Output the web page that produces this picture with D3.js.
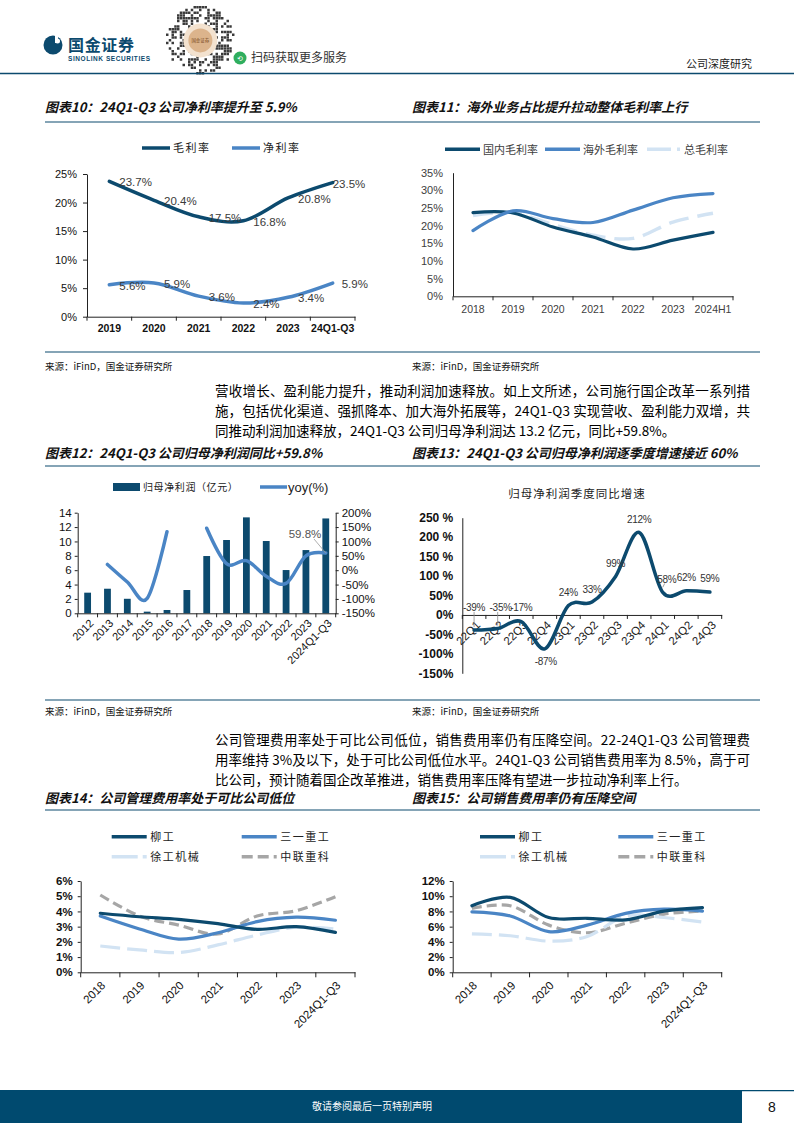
<!DOCTYPE html>
<html><head><meta charset="utf-8">
<script src="https://cdn.jsdelivr.net/npm/d3@7"></script>
<style>body{margin:0;background:#fff}svg{display:block}</style>
</head><body>
<svg id="page" width="794" height="1123" xmlns="http://www.w3.org/2000/svg"></svg>
<script>
// ---------------- DATA ----------------
const c10Cats = ["2019","2020","2021","2022","2023","24Q1-Q3"];
const c10Gross = [23.7,20.4,17.5,16.8,20.8,23.5];
const c10Net = [5.6,5.9,3.6,2.4,3.4,5.9];
const c10Ticks = [0,5,10,15,20,25];

const c11Cats = ["2018","2019","2020","2021","2022","2023","2024H1"];
const c11Domestic = [23.7,23.6,19.6,16.8,13.4,15.9,18.1];
const c11Overseas = [18.6,24.2,22.0,20.9,24.4,27.9,29.1];
const c11Total = [22.9,23.7,20.3,17.3,16.4,21.0,23.5];
const c11Ticks = [0,5,10,15,20,25,30,35];

const c12Cats = ["2012","2013","2014","2015","2016","2017","2018","2019","2020","2021","2022","2023","2024Q1-Q3"];
const c12Profit = [2.87,3.42,2.02,0.23,0.46,3.24,7.97,10.2,13.35,10.06,6.02,8.8,13.2];
const c12Yoy = [null,20,-41,-98,134,null,146,23,33,-21,-46,50,59.8];
const c12LeftTicks = [0,2,4,6,8,10,12,14];
const c12RightTicks = [-150,-100,-50,0,50,100,150,200];

const c13Cats = ["22Q1","22Q2","22Q3","22Q4","23Q1","23Q2","23Q3","23Q4","24Q1","24Q2","24Q3"];
const c13Yoy = [-39,-35,-17,-87,24,33,99,212,58,62,59];
const c13Ticks = [-150,-100,-50,0,50,100,150,200,250];

const c14Cats = ["2018","2019","2020","2021","2022","2023","2024Q1-Q3"];
const c14Liugong = [3.88,3.65,3.48,3.2,2.82,3.0,2.62];
const c14Sany = [3.7,2.85,2.18,2.6,3.33,3.62,3.42];
const c14Xcmg = [1.73,1.47,1.3,1.8,2.45,2.96,2.84];
const c14Zoomlion = [5.08,3.7,3.1,2.52,3.7,4.05,4.97];
const c14Ticks = [0,1,2,3,4,5,6];

const c15Cats = ["2018","2019","2020","2021","2022","2023","2024Q1-Q3"];
const c15Liugong = [8.75,9.85,7.2,7.1,6.9,8.05,8.5];
const c15Sany = [7.95,7.4,5.35,6.2,7.75,8.3,8.05];
const c15Xcmg = [5.05,4.8,4.1,4.7,7.4,7.2,6.6];
const c15Zoomlion = [8.4,8.75,6.2,5.2,6.45,7.65,8.05];
const c15Ticks = [0,2,4,6,8,10,12];

const peerNames = ["柳工","三一重工","徐工机械","中联重科"];

// ---------------- STYLE ----------------
const DARK = "#0c4a6e", MID = "#4a85c5", LIGHT = "#d2e3f3", GRAY = "#a6a6a6";
const LAT = "'Liberation Sans', Arial, 'Noto Sans CJK SC', sans-serif";
const CJK = "'Noto Sans CJK SC', 'Liberation Sans', sans-serif";
const svg = d3.select("#page");
const smooth = d3.curveCardinal.tension(0);

function txt(g, x, y, s, o = {}) {
  const t = g.append("text").attr("x", x).attr("y", y).text(s)
    .attr("font-family", o.ff || CJK).attr("font-size", o.fs || 12)
    .attr("fill", o.fill || "#000");
  if (o.fw) t.attr("font-weight", o.fw);
  if (o.fst) t.attr("font-style", o.fst);
  if (o.anchor) t.attr("text-anchor", o.anchor);
  if (o.ls) t.attr("letter-spacing", o.ls);
  if (o.len) t.attr("textLength", o.len).attr("lengthAdjust", "spacing");
  if (o.dy) t.attr("dy", o.dy);
  return t;
}
function styleAxis(a, color, font, fs, fw, fill) {
  a.select(".domain").attr("stroke", color).attr("stroke-width", 1);
  a.selectAll(".tick line").attr("stroke", color);
  a.selectAll(".tick text").attr("font-family", font).attr("font-size", fs)
    .attr("font-weight", fw || "normal").attr("fill", fill || "#000");
}
function bandTicks(g, x, y0, len, color) {
  const pos = x.domain().map(d => x(d)).concat([x.range()[1]]);
  g.selectAll(null).data(pos).enter().append("line")
    .attr("x1", d => d).attr("x2", d => d).attr("y1", y0).attr("y2", y0 + len)
    .attr("stroke", color).attr("stroke-width", 1);
}
function legendLine(g, x1, x2, y, color, w, dash) {
  const l = g.append("line").attr("x1", x1).attr("x2", x2).attr("y1", y).attr("y2", y)
    .attr("stroke", color).attr("stroke-width", w);
  if (dash) l.attr("stroke-dasharray", dash);
  return l;
}
function series(g, x, y, vals, color, w, dash) {
  const cats = x.domain(), bw = x.bandwidth();
  const line = d3.line().defined(d => d[1] != null)
    .x(d => x(d[0]) + bw / 2).y(d => y(d[1])).curve(smooth);
  const p = g.append("path").datum(cats.map((c, i) => [c, vals[i]]))
    .attr("d", line).attr("fill", "none").attr("stroke", color)
    .attr("stroke-width", w).attr("stroke-linecap", dash ? "butt" : "round");
  if (dash) p.attr("stroke-dasharray", dash);
  return p;
}

// ---------------- HEADER ----------------
(function header() {
  const g = svg.append("g");
  g.append("circle").attr("cx", 53).attr("cy", 45).attr("r", 9.5).attr("fill", DARK);
  g.append("rect").attr("x", 55).attr("y", 34).attr("width", 3).attr("height", 9).attr("fill", "#fff");
  g.append("circle").attr("cx", 57.5).attr("cy", 41).attr("r", 2.5).attr("fill", "#fff");
  txt(g, 68, 51, "国金证券", { fs: 16, fw: "bold", fill: DARK, len: 66 });
  txt(g, 68, 60.5, "SINOLINK SECURITIES", { ff: LAT, fs: 6.5, fw: "bold", fill: DARK, len: 82 });
  // QR-style badge (decorative)
  const qx = 166, qy = 6, m = 2.75, n = 25;
  const qr = g.append("g");
  for (let i = 0; i < n; i++) for (let j = 0; j < n; j++) {
    const dx = i - 12, dy = j - 12;
    if (dx * dx + dy * dy > 150) continue;
    const h = (((i * 73856093) ^ (j * 19349663) ^ (i * j * 83492791)) >>> 0) % 100;
    if (h < 46) qr.append("rect").attr("x", qx + i * m).attr("y", qy + j * m)
      .attr("width", m * 0.9).attr("height", m * 0.9).attr("fill", "#3a3a3a");
  }
  g.append("circle").attr("cx", qx + 12.5 * m).attr("cy", qy + 12.5 * m).attr("r", 17).attr("fill", "#f3e2cf");
  g.append("circle").attr("cx", qx + 12.5 * m).attr("cy", qy + 12.5 * m).attr("r", 12).attr("fill", "#dcb48c");
  txt(g, qx + 12.5 * m, qy + 12.5 * m + 2, "国金证券", { fs: 4.5, fill: "#7a4a20", anchor: "middle" });
  g.append("circle").attr("cx", 240).attr("cy", 58).attr("r", 6.5).attr("fill", "#2fae5e");
  txt(g, 240, 61, "⟲", { ff: LAT, fs: 7, fill: "#fff", anchor: "middle" });
  txt(g, 251, 62, "扫码获取更多服务", { fs: 12, fill: "#333" });
  txt(g, 752, 68, "公司深度研究", { fs: 11, fill: "#222", anchor: "end" });
  g.append("line").attr("x1", 0).attr("x2", 794).attr("y1", 73.5).attr("y2", 73.5)
    .attr("stroke", DARK).attr("stroke-width", 1.5);
})();

// ---------------- TITLES / SOURCES / RULES ----------------
(function frame() {
  const g = svg.append("g");
  const tOpt = { fs: 13, fw: "bold", fst: "italic", fill: "#111" };
  txt(g, 45, 112, "图表10：24Q1-Q3 公司净利率提升至 5.9%", tOpt);
  txt(g, 412, 112, "图表11：海外业务占比提升拉动整体毛利率上行", tOpt);
  txt(g, 45, 458, "图表12：24Q1-Q3 公司归母净利润同比+59.8%", tOpt);
  txt(g, 412, 458, "图表13：24Q1-Q3 公司归母净利润逐季度增速接近 60%", tOpt);
  txt(g, 45, 803, "图表14：公司管理费用率处于可比公司低位", tOpt);
  txt(g, 412, 803, "图表15：公司销售费用率仍有压降空间", tOpt);
  [122, 466, 810, 352, 700].forEach(y => g.append("line").attr("x1", 45).attr("x2", 760)
    .attr("y1", y).attr("y2", y).attr("stroke", DARK).attr("stroke-width", 1.2));
  const sOpt = { fs: 9.5, fill: "#111" };
  [[45, 370], [412, 370], [45, 715], [412, 715]].forEach(p => txt(g, p[0], p[1], "来源：iFinD，国金证券研究所", sOpt));
  const bOpt = { fs: 13.5, fill: "#000" };
  txt(g, 215, 396, "营收增长、盈利能力提升，推动利润加速释放。如上文所述，公司施行国企改革一系列措", { ...bOpt, len: 535 });
  txt(g, 215, 416, "施，包括优化渠道、强抓降本、加大海外拓展等，24Q1-Q3 实现营收、盈利能力双增，共", { ...bOpt, len: 535 });
  txt(g, 215, 436, "同推动利润加速释放，24Q1-Q3 公司归母净利润达 13.2 亿元，同比+59.8%。", bOpt);
  txt(g, 215, 745, "公司管理费用率处于可比公司低位，销售费用率仍有压降空间。22-24Q1-Q3 公司管理费", { ...bOpt, len: 535 });
  txt(g, 215, 765, "用率维持 3%及以下，处于可比公司低位水平。24Q1-Q3 公司销售费用率为 8.5%，高于可", { ...bOpt, len: 535 });
  txt(g, 215, 785, "比公司，预计随着国企改革推进，销售费用率压降有望进一步拉动净利率上行。", bOpt);
})();

// ---------------- CHART 10 ----------------
(function chart10() {
  const g = svg.append("g");
  const x = d3.scaleBand().domain(c10Cats).range([87, 355]);
  const y = d3.scaleLinear().domain([0, 25]).range([316.7, 174]);
  const ya = g.append("g").attr("transform", "translate(87,0)")
    .call(d3.axisLeft(y).tickValues(c10Ticks).tickSize(4).tickSizeOuter(0).tickPadding(6).tickFormat(d => d + "%"));
  styleAxis(ya, "#222", LAT, 11, "normal", "#111");
  const xa = g.append("g").attr("transform", "translate(0,316.7)")
    .call(d3.axisBottom(x).tickSize(0).tickSizeOuter(0).tickPadding(8));
  styleAxis(xa, "#222", LAT, 10.5, "bold", "#111");
  bandTicks(g, x, 316.7, 4, "#222");
  series(g, x, y, c10Gross, DARK, 3.5);
  series(g, x, y, c10Net, MID, 3.5);
  const bw = x.bandwidth(), last = c10Cats.length - 1;
  [[c10Gross, 0], [c10Net, 9]].forEach(([vals, lastDx]) => {
    vals.forEach((v, i) => txt(g, x(c10Cats[i]) + bw / 2 + (i === last ? lastDx : 10), y(v) + 1,
      v.toFixed(1) + "%", { ff: LAT, fs: 11.5, fill: "#3a3a3a", dy: "0.35em" }));
  });
  legendLine(g, 142, 170, 148, DARK, 3.5);
  txt(g, 173, 152, "毛利率", { fs: 11, ls: 1.5, fill: "#222" });
  legendLine(g, 232, 260, 148, MID, 3.5);
  txt(g, 263, 152, "净利率", { fs: 11, ls: 1.5, fill: "#222" });
})();

// ---------------- CHART 11 ----------------
(function chart11() {
  const g = svg.append("g");
  const x = d3.scaleBand().domain(c11Cats).range([453, 733]);
  const y = d3.scaleLinear().domain([0, 35]).range([296.3, 172.7]);
  const ya = g.append("g").attr("transform", "translate(453,0)")
    .call(d3.axisLeft(y).tickValues(c11Ticks).tickSize(0).tickPadding(10).tickFormat(d => d + "%"));
  styleAxis(ya, "#222", LAT, 11, "normal", "#404040");
  const xa = g.append("g").attr("transform", "translate(0,296.3)")
    .call(d3.axisBottom(x).tickSize(0).tickSizeOuter(0).tickPadding(9));
  styleAxis(xa, "#222", LAT, 10.5, "normal", "#404040");
  bandTicks(g, x, 296.3, 4, "#222");
  series(g, x, y, c11Total, LIGHT, 3.5, "20,9");
  series(g, x, y, c11Domestic, DARK, 3.2);
  series(g, x, y, c11Overseas, MID, 3.2);
  legendLine(g, 445, 480, 149.3, DARK, 3.5);
  txt(g, 483, 153.5, "国内毛利率", { fs: 11, fill: "#404040" });
  legendLine(g, 545, 580, 149.3, MID, 3.5);
  txt(g, 583, 153.5, "海外毛利率", { fs: 11, fill: "#404040" });
  legendLine(g, 647, 680, 149.3, LIGHT, 3.5, "24,6");
  txt(g, 684, 153.5, "总毛利率", { fs: 11, fill: "#404040" });
})();

// ---------------- CHART 12 ----------------
(function chart12() {
  const g = svg.append("g");
  const x = d3.scaleBand().domain(c12Cats).range([77.7, 335.7]);
  const yL = d3.scaleLinear().domain([0, 14]).range([613.3, 512.7]);
  const yR = d3.scaleLinear().domain([-150, 200]).range([613.3, 512.7]);
  const bw = x.bandwidth(), barW = 6.8;
  g.selectAll(null).data(c12Cats).enter().append("rect")
    .attr("x", d => x(d) + bw / 2 - barW / 2).attr("width", barW)
    .attr("y", (d, i) => yL(c12Profit[i])).attr("height", (d, i) => yL(0) - yL(c12Profit[i]))
    .attr("fill", DARK);
  const la = g.append("g").attr("transform", "translate(77.7,0)")
    .call(d3.axisLeft(yL).tickValues(c12LeftTicks).tickSize(3).tickSizeOuter(0).tickPadding(3));
  styleAxis(la, "#222", LAT, 11.5, "normal", "#111");
  const ra = g.append("g").attr("transform", "translate(335.7,0)")
    .call(d3.axisRight(yR).tickValues(c12RightTicks).tickSize(3).tickSizeOuter(0).tickPadding(3).tickFormat(d => d + "%"));
  styleAxis(ra, "#222", LAT, 11.5, "normal", "#111");
  const xa = g.append("g").attr("transform", "translate(0,613.3)")
    .call(d3.axisBottom(x).tickSize(0).tickSizeOuter(0).tickFormat(""));
  styleAxis(xa, "#222", LAT, 11, "normal", "#111");
  bandTicks(g, x, 613.3, 4, "#222");
  c12Cats.forEach(c => txt(g.append("g").attr("transform", `translate(${x(c) + bw / 2 + 4},${613.3 + 8}) rotate(-45)`),
    0, 0, c, { ff: LAT, fs: 11, fill: "#111", anchor: "end", dy: "0.35em" }));
  series(g, x, yR, c12Yoy, MID, 3.5);
  const li = c12Cats.length - 1, px = x(c12Cats[li]) + bw / 2, py = yR(c12Yoy[li]);
  g.append("line").attr("x1", 314).attr("y1", 539).attr("x2", px).attr("y2", py)
    .attr("stroke", "#9a9a9a").attr("stroke-width", 0.8);
  txt(g, 305, 538, c12Yoy[li].toFixed(1) + "%", { ff: LAT, fs: 11.5, fill: "#555", anchor: "middle" });
  g.append("rect").attr("x", 113).attr("y", 483).attr("width", 27).attr("height", 8).attr("fill", DARK);
  txt(g, 143, 491, "归母净利润（亿元）", { fs: 10, ls: 0.6, fill: "#222" });
  legendLine(g, 260, 287, 487, MID, 3.5);
  txt(g, 288, 492, "yoy(%)", { ff: LAT, fs: 13, fill: "#222" });
})();

// ---------------- CHART 13 ----------------
(function chart13() {
  const g = svg.append("g");
  const x = d3.scaleBand().domain(c13Cats).range([462.3, 721.7]);
  const y = d3.scaleLinear().domain([-150, 250]).range([673.3, 517.7]);
  const bw = x.bandwidth();
  const ya = g.append("g").attr("transform", "translate(462.3,0)")
    .call(d3.axisLeft(y).tickValues(c13Ticks).tickSize(0).tickPadding(9)
      .tickFormat(d => Math.abs(d) >= 100 && d > 0 ? d + " %" : d + "%"));
  styleAxis(ya, "#222", LAT, 12, "bold", "#111");
  const xa = g.append("g").attr("transform", `translate(0,${y(0)})`)
    .call(d3.axisBottom(x).tickSize(0).tickSizeOuter(0).tickFormat(""));
  styleAxis(xa, "#222", LAT, 11, "normal", "#111");
  bandTicks(g, x, y(0), 4, "#222");
  c13Cats.forEach(c => txt(g.append("g").attr("transform", `translate(${x(c) + bw / 2 + 4},${y(0) + 8}) rotate(-45)`),
    0, 0, c, { ff: LAT, fs: 11.5, fill: "#222", anchor: "end", dy: "0.35em" }));
  series(g, x, y, c13Yoy, DARK, 3.5);
  const special = { 0: [0, null, true], 1: [3, null, true], 2: [0, null], 3: [1, 13], 8: [4, -13, true] };
  c13Yoy.forEach((v, i) => {
    const cx = x(c13Cats[i]) + bw / 2, cy = y(v);
    const s = special[i] || [0, -13];
    const dx = s[0];
    const ly = s[1] == null ? y(0) - 7 : cy + s[1];
    if (s[2]) {
      const y1 = ly + 4, y2 = i === 8 ? cy - 5 : cy - 3;
      g.append("line").attr("x1", cx + (i === 8 ? 2 : 0)).attr("x2", cx).attr("y1", y1).attr("y2", y2)
        .attr("stroke", "#8a8a8a").attr("stroke-width", 0.8);
    }
    txt(g, cx + dx, ly, v + "%", { ff: LAT, fs: 10, fill: "#333", anchor: "middle", dy: "0.35em", ls: -0.3 });
  });
  txt(g, 577, 498, "归母净利润季度同比增速", { fs: 11.5, ls: 1, fill: "#222", anchor: "middle" });
})();

// ---------------- CHARTS 14 & 15 ----------------
function peerChart(o) {
  const g = svg.append("g");
  const x = d3.scaleBand().domain(o.cats).range([o.x0, o.x1]);
  const y = d3.scaleLinear().domain([0, o.max]).range([972.3, 881]);
  const bw = x.bandwidth();
  const ya = g.append("g").attr("transform", `translate(${o.x0},0)`)
    .call(d3.axisLeft(y).tickValues(o.ticks).tickSize(3).tickSizeOuter(0).tickPadding(5).tickFormat(d => d + "%"));
  styleAxis(ya, "#222", LAT, 11.5, "bold", "#111");
  const xa = g.append("g").attr("transform", "translate(0,972.3)")
    .call(d3.axisBottom(x).tickSize(0).tickSizeOuter(0).tickFormat(""));
  styleAxis(xa, "#222", LAT, 11, "normal", "#111");
  bandTicks(g, x, 972.3, 5, "#222");
  o.cats.forEach(c => txt(g.append("g").attr("transform", `translate(${x(c) + bw / 2 + 3},${972.3 + 11}) rotate(-45)`),
    0, 0, c, { ff: LAT, fs: 11.5, fill: "#111", anchor: "end", dy: "0.35em" }));
  const styles = [[DARK, 3.2, null], [MID, 3.2, null], [LIGHT, 3.2, "20,7"], [GRAY, 3.2, "10,5"]];
  [3, 2, 1, 0].forEach(k => series(g, x, y, o.vals[k], styles[k][0], styles[k][1], styles[k][2]));
  const lx = [o.lx1, o.lx2], rows = [836.7, 856.7];
  peerNames.forEach((nm, k) => {
    const col = k % 2, row = Math.floor(k / 2);
    const dash = k === 2 ? "26,5,4,5" : (k === 3 ? "11,5" : null);
    legendLine(g, lx[col], lx[col] + 35, rows[row], styles[k][0], 3.5, dash);
    txt(g, lx[col] + 38.5, rows[row] + 4.2, nm, { fs: 11, ls: 1.5, fill: "#222" });
  });
}
peerChart({ cats: c14Cats, x0: 80.7, x1: 355, max: 6, ticks: c14Ticks,
  vals: [c14Liugong, c14Sany, c14Xcmg, c14Zoomlion], lx1: 111.7, lx2: 241.7 });
peerChart({ cats: c15Cats, x0: 452.7, x1: 721.7, max: 12, ticks: c15Ticks,
  vals: [c15Liugong, c15Sany, c15Xcmg, c15Zoomlion], lx1: 480, lx2: 618.3 });

// ---------------- FOOTER ----------------
(function footer() {
  const g = svg.append("g");
  g.append("rect").attr("x", 0).attr("y", 1090).attr("width", 742).attr("height", 33).attr("fill", "#004a6f");
  g.append("line").attr("x1", 742).attr("x2", 794).attr("y1", 1090.7).attr("y2", 1090.7)
    .attr("stroke", "#004a6f").attr("stroke-width", 1.3);
  txt(g, 372, 1110, "敬请参阅最后一页特别声明", { fs: 10, fill: "#fff", anchor: "middle" });
  txt(g, 772, 1112, "8", { ff: LAT, fs: 14, fill: "#111", anchor: "middle" });
})();
</script>
</body></html>
